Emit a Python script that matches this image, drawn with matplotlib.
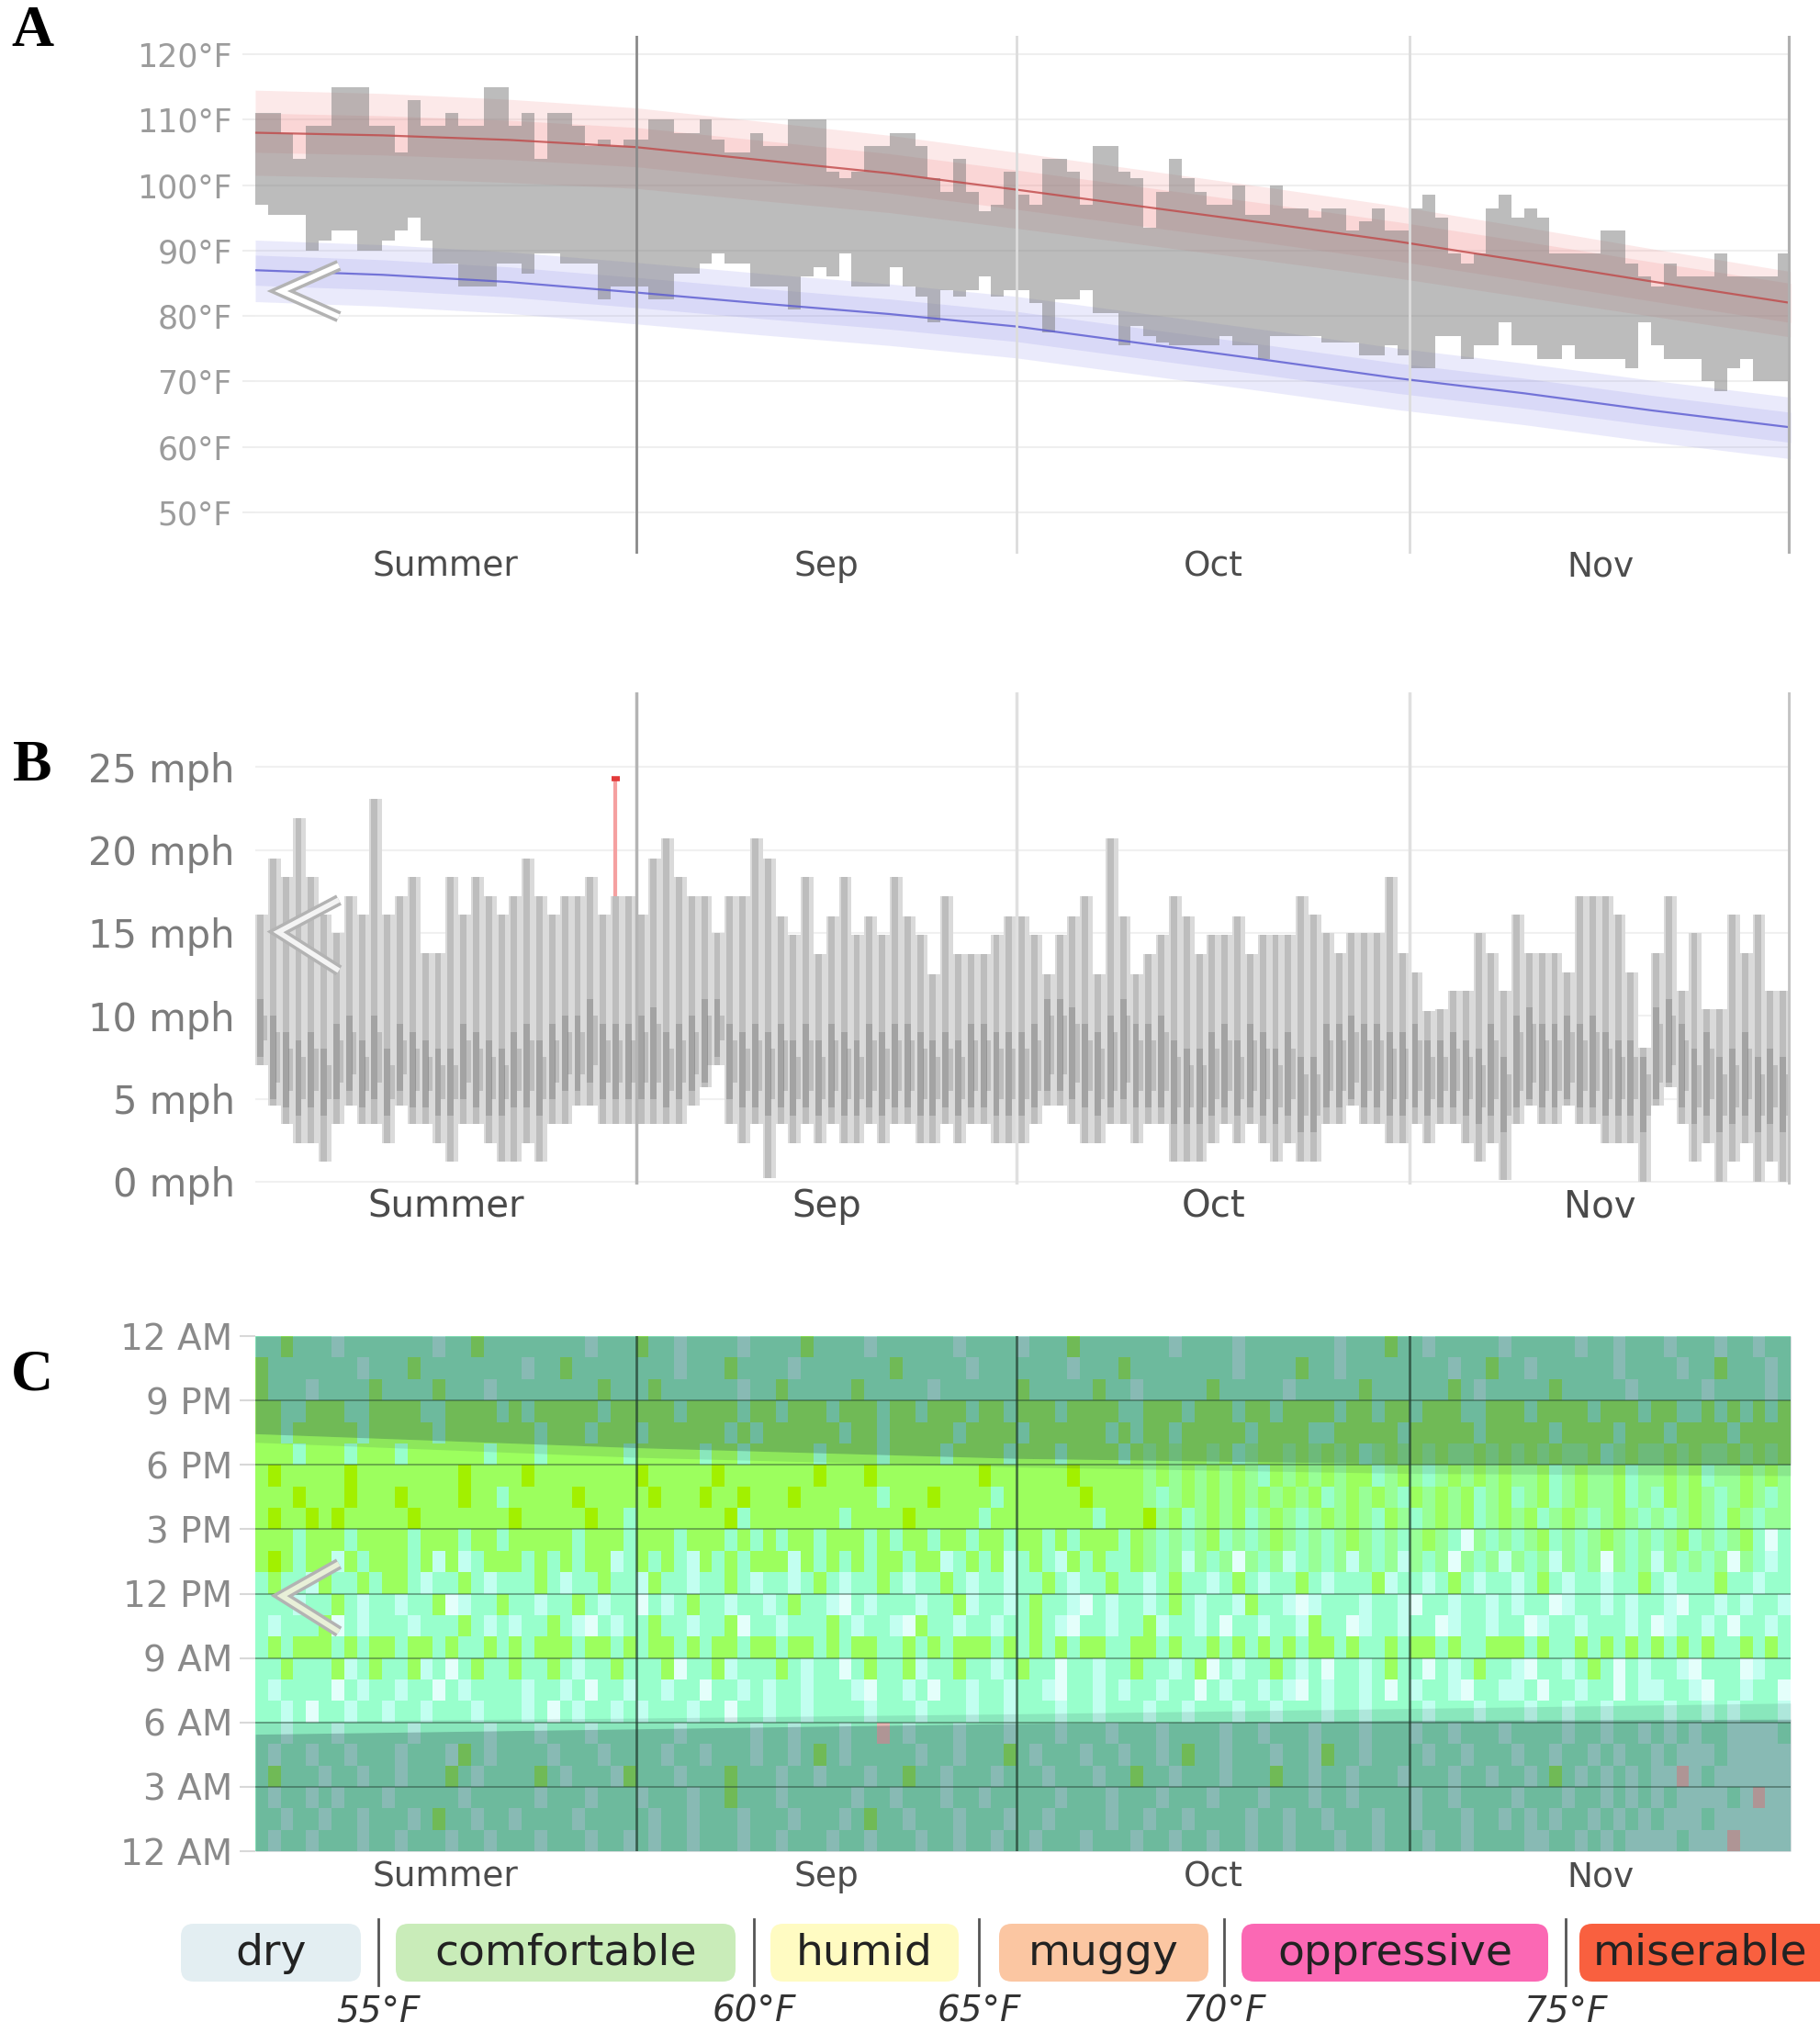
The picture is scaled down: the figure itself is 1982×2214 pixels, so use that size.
import matplotlib
matplotlib.use("Agg")
import matplotlib.pyplot as plt
import numpy as np
from matplotlib.colors import ListedColormap
from matplotlib.patches import FancyBboxPatch
from matplotlib.lines import Line2D

W, H = 1982, 2214

# ------------------------------------------------------------------ data
month_names = ["Summer", "Sep", "Oct", "Nov"]
month_edges = [0, 30, 60, 91, 121]

# panel A - daily high / low temperature (°F)
temp_ticks = [50, 60, 70, 80, 90, 100, 110, 120]
day_high = [111, 111, 108, 104, 109, 109, 115, 115, 115, 109,
            109, 105, 113, 109, 109, 111, 109, 109, 115, 115,
            109, 111, 104, 111, 111, 109, 106, 107, 106, 107,
            107, 110, 110, 108, 108, 110, 107, 105, 105, 108,
            106, 106, 110, 110, 110, 102, 101, 102, 106, 106,
            108, 108, 106, 101, 99, 104, 99, 96, 97, 102,
            98.5, 97, 104, 104, 102, 97, 106, 106, 102, 101,
            93.5, 99, 104, 101, 99, 97, 97, 100, 95.5, 95.5,
            100, 96.5, 96.5, 95, 96.5, 96.5, 93, 94.5, 96.5, 93,
            93, 96.5, 98.5, 95, 89.5, 88, 89.5, 96.5, 98.5, 95,
            96.5, 95, 89.5, 89.5, 89.5, 89.5, 93, 93, 88, 86,
            84.5, 88, 86, 86, 86, 89.5, 86, 86, 86, 86, 89.5]
day_low = [97, 95.5, 95.5, 95.5, 90, 91.5, 93, 93, 90, 90,
           91.5, 93, 95, 91.5, 88, 88, 84.5, 84.5, 84.5, 88,
           88, 86.5, 89.5, 89.5, 88, 88, 88, 82.5, 84.5, 84.5,
           84.5, 82.5, 82.5, 86.5, 86.5, 88, 89.5, 88, 88, 84.5,
           84.5, 84.5, 81, 86, 87.5, 86, 89.5, 84.5, 84.5, 84.5,
           87.5, 84.5, 83, 79, 84, 83, 84, 86, 83, 84,
           84, 82, 77.5, 82.5, 82.5, 84, 80.5, 80.5, 75.5, 78.5,
           77, 76, 75.5, 75.5, 75.5, 75.5, 77, 75.5, 75.5, 73.5,
           77, 77, 77, 77, 76, 76, 76, 74, 74, 75.5,
           74, 72, 72, 77, 77, 73.5, 75.5, 75.5, 79, 75.5,
           75.5, 73.5, 73.5, 75.5, 73.5, 73.5, 73.5, 73.5, 72, 79,
           75.5, 73.5, 73.5, 73.5, 70, 68.5, 72, 73.5, 70, 70, 70]

# climate normals at knot days
knot_days = [0, 10, 20, 30, 40, 50, 60, 70, 80, 90, 100, 110, 121]
avg_high = [108, 107.6, 106.9, 105.8, 103.8, 101.8, 99.3, 96.7, 94.1, 91.4, 88.4, 85.3, 82]
high_p90 = [114.5, 114, 113.1, 111.8, 109.7, 107.6, 105, 102.3, 99.6, 96.8, 93.6, 90.3, 86.8]
high_p75 = [111, 110.6, 109.9, 108.8, 106.8, 104.8, 102.3, 99.7, 97.1, 94.4, 91.4, 88.3, 85]
high_p25 = [105, 104.6, 103.9, 102.8, 100.8, 98.8, 96.3, 93.7, 91.1, 88.4, 85.4, 82.3, 79]
high_p10 = [101.5, 101.1, 100.4, 99.5, 97.6, 95.8, 93.4, 90.9, 88.4, 85.8, 82.9, 80, 76.8]
avg_low = [87, 86.3, 85.2, 83.6, 81.9, 80.3, 78.4, 75.8, 73.2, 70.5, 68.2, 65.6, 63]
low_p90 = [91.6, 90.9, 89.8, 88.2, 86.5, 84.9, 83, 80.4, 77.8, 75.1, 72.8, 70.2, 67.6]
low_p75 = [89.3, 88.6, 87.5, 85.9, 84.2, 82.6, 80.7, 78.1, 75.5, 72.8, 70.5, 67.9, 65.3]
low_p25 = [84.7, 84, 82.9, 81.3, 79.6, 78, 76.1, 73.5, 70.9, 68.2, 65.9, 63.3, 60.7]
low_p10 = [82.2, 81.5, 80.4, 78.8, 77.1, 75.5, 73.6, 71, 68.4, 65.7, 63.4, 60.8, 58.2]

# panel B - daily wind speed (mph)
wind_ticks = [0, 5, 10, 15, 20, 25]
wind_max = [16.1, 19.5, 18.4, 21.9, 18.4, 16.1, 15, 17.2, 16.1, 23.1,
            16.1, 17.2, 18.4, 13.8, 13.8, 18.4, 16.1, 18.4, 17.2, 16.1,
            17.2, 19.5, 17.2, 16.1, 17.2, 17.2, 18.4, 16.1, 17.2, 17.2,
            16.1, 19.5, 20.7, 18.4, 17.2, 17.2, 15, 17.2, 17.2, 20.7,
            19.5, 16, 14.9, 18.4, 13.7, 16, 18.4, 14.9, 16, 14.9,
            18.4, 16, 14.9, 12.5, 17.2, 13.7, 13.7, 13.7, 14.9, 16,
            16, 14.9, 12.5, 14.9, 16, 17.2, 12.5, 20.7, 16, 12.5,
            13.7, 14.9, 17.2, 16, 13.7, 14.9, 14.9, 16, 13.7, 14.9,
            14.9, 14.9, 17.2, 16.1, 15, 13.8, 15, 15, 15, 18.4,
            13.8, 12.6, 10.3, 10.4, 11.5, 11.5, 15, 13.8, 11.5, 16.1,
            13.8, 13.8, 13.8, 12.6, 17.2, 17.2, 17.2, 16.1, 12.6, 8.1,
            13.8, 17.2, 11.5, 15, 10.4, 10.4, 16.1, 13.8, 16.1, 11.5, 11.5]
wind_min = [7, 4.6, 3.5, 2.3, 2.3, 1.2, 3.5, 4.6, 3.5, 3.5,
            2.3, 4.6, 3.5, 3.5, 2.3, 1.2, 3.5, 3.5, 2.3, 1.2,
            1.2, 2.3, 1.2, 3.5, 3.5, 4.6, 4.6, 3.5, 3.5, 3.5,
            3.5, 3.5, 3.5, 3.5, 4.6, 5.7, 7, 3.5, 2.3, 3.5,
            0.2, 3.5, 2.3, 3.5, 2.3, 3.5, 2.3, 2.3, 3.5, 2.3,
            3.5, 3.5, 2.3, 2.3, 3.5, 2.3, 3.5, 3.5, 2.3, 2.3,
            2.3, 3.5, 4.6, 4.6, 3.5, 2.3, 2.3, 3.5, 3.5, 2.3,
            3.5, 3.5, 1.2, 1.2, 1.2, 2.3, 3.5, 2.3, 3.5, 2.3,
            1.2, 2.3, 1.2, 1.2, 3.5, 3.5, 4.6, 3.5, 3.5, 2.3,
            2.3, 3.5, 2.3, 3.5, 3.5, 2.3, 1.2, 2.3, 0.1, 3.5,
            4.6, 3.5, 3.5, 4.6, 3.5, 3.5, 2.3, 2.3, 2.3, 0,
            4.6, 5.7, 3.5, 1.2, 2.3, 0, 1.2, 2.3, 0, 1.2, 0]
wind_q1 = [7.5, 5, 4.5, 4, 4.5, 4, 5, 5.5, 4.5, 5,
           4, 5.5, 4.5, 4.5, 4, 4, 5, 4.5, 4, 4,
           4.5, 4.5, 4, 5, 5.5, 5.5, 6, 5, 5, 5,
           5, 5, 4.5, 5, 5.5, 6, 7.5, 5, 4.5, 4.5,
           4, 4.5, 4, 4.5, 4, 4.5, 4, 4, 4.5, 4,
           4.5, 4.5, 4, 4, 4.5, 4, 4.5, 4.5, 4, 4,
           4, 4.5, 5.5, 5.5, 5, 4.5, 4, 4.5, 5, 4.5,
           4.5, 4.5, 3.5, 3.5, 3.5, 4, 4.5, 4, 4.5, 4,
           3.5, 4, 3, 3, 4.5, 4.5, 5, 4.5, 4.5, 4,
           4, 4.5, 4, 4.5, 4.5, 4, 3.5, 4, 3, 4.5,
           5, 4.5, 4.5, 5, 4.5, 4.5, 4, 4, 4, 3,
           5, 6, 4.5, 3.5, 4, 3, 3.5, 4, 3, 3.5, 3]
wind_q3 = [11, 10, 9, 8.5, 9, 8, 9.5, 10, 8.5, 10,
           8, 9.5, 9, 8.5, 8, 8, 9.5, 9, 8.5, 8,
           9, 9.5, 8.5, 9.5, 10, 10, 11, 9.5, 9.5, 9.5,
           10, 10.5, 9, 9.5, 10, 11, 11, 9.5, 9, 9.5,
           9, 9.5, 8.5, 9.5, 8.5, 9.5, 9, 8.5, 9.5, 9,
           9.5, 9.5, 9, 8.5, 9, 8.5, 9.5, 9.5, 9, 9,
           9, 9.5, 11, 11, 10.5, 9.5, 9, 10, 11, 9.5,
           9.5, 10, 8.5, 8, 8, 9, 9.5, 8.5, 9.5, 9,
           8, 9, 7.5, 7.5, 9.5, 9.5, 10, 9.5, 9.5, 9,
           9, 9.5, 8.5, 8.5, 9, 8.5, 8, 9.5, 7.5, 10,
           10.5, 9.5, 9.5, 10, 9.5, 10, 9, 8.5, 8.5, 7.5,
           10.5, 11, 9.5, 8, 9, 7.5, 8, 9, 7.5, 8, 7.5]
gust_day = 28
gust_speed = 24.3

# panel C - hourly comfort category, one string per hour (11 PM row first)
hour_ticks = [0, 3, 6, 9, 12, 15, 18, 21, 24]
hour_labels = ["12 AM", "3 AM", "6 AM", "9 AM", "12 PM", "3 PM", "6 PM", "9 PM", "12 AM"]
comfort_rows = [
    "aagaaacaaa aaaacaagaa aaaaaacaaa gaacaaaaca aaagaaaaca aaaaacaaaa caaagaaaaa aacaaaacaa aaaaacaaag aacaaaaaca aaaacaacaa acaaacaaca a",
    "gaaaaaaaca aagaaaaaaa acaagaaaaa aaacaaagaa aacaaaaaaa gaaaaacaaa aaaacaaaga aaaaaaacaa aagaacaaaa aaaacaagaa caaaaaacaa aacaagaaac a",
    "gaaacaaaag aaaagaaaca aaaaaaagaa agaaaaaaca agaaaaagaa aaacaaaaaa gaaaaagaac aaaaagaaaa acaaaaagaa aaaagacaaa aagaaaaaca aaaacaaaac a",
    "ggaagggaag gggaagggga gagggggagg gggaggggag gagggaggga ggagggagga gggaggggaa gggagggagg aggggaggag gagggaaggg aggggaggga ggaagagaga g",
    "ggagggggag ggggaggggg ggagggaggg aggggggaga ggggggagga gggggagggg aggggggaga ggagggggag gggaaggggg agggggaggg ggaggggagg gaggggaggg g",
    "gggagggagg gaggggggag ggagggggga gggggaggag ggggagggga ggggagggga gggaggggag mgmggmgamg gmgmgmgamg mgmgmmgmgm gmgmmgamgm mgmgmmgmgm g",
    "gygggggygg ggggggyggg gygggggggg ygggggyggg ggggygggyg gggggggygg ggggyggggg mgmgmgmgma gmgmgmggam gmamgmgmgm mgamgmmgam mgmgammgmg m",
    "gggygggygg gyggggygga gggggygggg gygggyggyg ggygggggga gggyggggag gggggygggg mamgmgmgmg mgmgamgmgm agmgmgamga mgamgmmgam agmgmamgma m",
    "gyggygyggg ggyggggggg ygggggygga gggggggyag ggggggaggg gygggggagg ggggggaggg ymgamgmgam gmamgmgmag mamgmgamgm gamgmamgma mamgmagmam m",
    "gggagggagg ggagggagga gggggaggga gggagggaga gaggagggag aggaggagga ggagagggag mamamgamam gmamamgmam amgmawmama mgamamgmam amgamamgaw a",
    "gygaggcgag ggagcgcagg gagagaggca gagacgagag ggcgagagag gaggcagagc agacgagaag mamcmamwma mcamamcmam cmamwmamcm amcmamwmam cmamamwmac a",
    "agaacgaaga ggacaagaca aagacaagaa cgaacaagac aacagacaag acaagacaac aagacaagaa cagaacagac aagacaaagc aacagacaac agacaacaag acaaagaaca a",
    "aaacaagaca acaagwcaag aacaagacaa wacagaacaa cagaacwaca aacaagcaac agaacwacaa cagacaacga acwcaaacaa cwaacaacac aawcaacaca acwaacacaa c",
    "acaaagwaca aacaaagaca caagacwaca agaacaagwa acaaagacaa cwgaacaaca agacwaacaa gcaacawaac aacgaawcaa caawcaacaa wcaacaaaca wcaacawaac a",
    "agagggagag gaggagaaga gagggaggag aggagaggag gaggagagga agagagggag agagaggaag gagaagagag agaggagaag aggagaaggg agaagagaga gagagaagag a",
    "aagaaagcag aagcawagaa gaagacaaga aagwaagcaa agacaawaga agcaagaaca gaawaacaag aacagwacaa gacawaacag aawacagaac waacagawac aacwaaawca a",
    "acaaaawaca acaawacaaa acaacawaac aacaawaaca caacaaacwa acawaacaac aacwaacaca acaawacaac acwacaacaw acaacwaacc awaacaawac caacwaacaa w",
    "aacawaacaa caacaaacaa acawacaaca caaacaawaa caacaaaaca aacaaacaac aaacaacaaa caacaaacaa caaacaacaa aacaaacaaa caacaacaaa acaacacaaa c",
    "aacaaacaaa aacaaaaaca aacaaacaaa aaacaaaaac aacaaacaap acaaacaaac aaacaaacaa acaaaacaac aaacaaacaa acaacaaaca aaacaacaac acacaacccc a",
    "acaacaacaa acaaacgaca aaacaaacaa aacaacaaac aacagacaaa aacaacaaag acaaacaaca acagaacaaa caacgaacaa aacaacaaac aacaacacaa cacccacccc c",
    "agaaacaaca acaaagacaa aagacaaacg aaacaaagaa acaacaaaca agaacaaaca aacaaacaag aacaaacaaa gaacaacaaa caaacaacaa cagacacaca ccpcaccccc c",
    "acaacacaaa caaaaacaaa aacaaacaaa caaacaagaa acaaaaacaa caaacaacaa aaacaaacaa acaaacaaac aaacaacaaa acaacaaaac aaacaacaca caccccacpc c",
    "aacaacaaca aacagaacaa caaaacaaaa acaacaaaca aacaaacaga acaaacaaac aacaaaacaa caacaaaaca acaacaaaca acaaacaaca cacaacacac acccaccccc c",
    "acaacaaaca acaaacaaca aacaaacaac acaacaaaca acaaacaaca aacaacaaca acaaacaaac aacaacaaca acaaacaaca aacaacaaaa ccaacacacc ccacccpccc c",
]
comfort_codes = "wcamgyp"
comfort_colors = ["#e4fffb", "#c2fff0", "#98ffcc", "#98ff96", "#9cff5e", "#a2f000", "#ffc6c0"]

# daylight (hours) at knot days
sun_days = [0, 30, 60, 91, 121]
dusk_h = [19.45, 18.8, 18.3, 18.05, 18.0]
sunset_h = [19.05, 18.35, 17.9, 17.6, 17.5]
dawn_h = [5.45, 5.7, 5.95, 6.1, 6.15]
sunrise_h = [6.05, 6.2, 6.4, 6.65, 6.9]

# legend
legend_labels = ["dry", "comfortable", "humid", "muggy", "oppressive", "miserable"]
legend_colors = ["#e3eef2", "#c9ecb9", "#fffbc2", "#fbc6a2", "#fb68b4", "#f9603f"]
legend_temps = ["55°F", "60°F", "65°F", "70°F", "75°F"]

# ------------------------------------------------------------------ layout helpers
def box(left, top, right, bottom):
    return [left / W, 1 - bottom / H, (right - left) / W, (bottom - top) / H]

plt.rcParams['font.family'] = ['DejaVu Sans']

fig = plt.figure(figsize=(W / 100, H / 100), dpi=100)
fig.patch.set_facecolor("white")

n_days = len(day_high)
edges = np.arange(n_days + 1)
centers = np.arange(n_days) + 0.5


def month_axis(ax, ypos, size, color):
    ax.set_xlim(0, n_days)
    ax.set_xticks([])
    for s in ax.spines.values():
        s.set_visible(False)
    for i, name in enumerate(month_names):
        mid = (month_edges[i] + month_edges[i + 1]) / 2
        ax.text(mid, ypos, name, transform=ax.get_xaxis_transform(),
                ha="center", va="center", fontsize=size, color=color)


def chevron(tip, top_end, bot_end, inner):
    xs = np.array([top_end[0], tip[0], bot_end[0]]) / W
    ys = 1 - np.array([top_end[1], tip[1], bot_end[1]]) / H
    fig.add_artist(Line2D(xs, ys, transform=fig.transFigure, color="#b3b3b3",
                          lw=9, solid_joinstyle="miter", solid_capstyle="butt", zorder=20))
    fig.add_artist(Line2D(xs, ys, transform=fig.transFigure, color=inner,
                          lw=4, solid_joinstyle="miter", solid_capstyle="butt", zorder=21))


# ------------------------------------------------------------------ panel A
axA = fig.add_axes(box(278, 39, 1950, 603))
axA.set_ylim(43.7, 122.8)
month_axis(axA, -0.025, 27, "#4c4c4c")
axA.set_yticks(temp_ticks)
axA.set_yticklabels([f"{t}°F" for t in temp_ticks], fontsize=25, color="#9c9c9c")
axA.tick_params(axis="y", length=10, color="#eeeeee", width=1.5, pad=8)
for t in temp_ticks:
    axA.axhline(t, color="#efefef", lw=1.5, zorder=0)

axA.fill_between(knot_days, high_p10, high_p90, color="#f07878", alpha=0.16, lw=0, zorder=1)
axA.fill_between(knot_days, high_p25, high_p75, color="#f07878", alpha=0.16, lw=0, zorder=1)
axA.fill_between(knot_days, low_p10, low_p90, color="#7878e6", alpha=0.15, lw=0, zorder=1)
axA.fill_between(knot_days, low_p25, low_p75, color="#7878e6", alpha=0.15, lw=0, zorder=1)

hi_step = list(day_high) + [day_high[-1]]
lo_step = list(day_low) + [day_low[-1]]
axA.fill_between(edges, lo_step, hi_step, step="post", color="#7a7a7a",
                 alpha=0.5, lw=0, zorder=2)

axA.plot(knot_days, avg_high, color="#c04848", lw=1.6, alpha=0.8, zorder=3)
axA.plot(knot_days, avg_low, color="#5a5ad0", lw=1.6, alpha=0.8, zorder=3)

axA.axvline(month_edges[1], color="#8a8a8a", lw=2, zorder=4)
for m in month_edges[2:4]:
    axA.axvline(m, color="#dcdcdc", lw=2, zorder=4)
axA.axvline(month_edges[4] - 0.1, color="#b0b0b0", lw=3, zorder=4)

# ------------------------------------------------------------------ panel B
axB = fig.add_axes(box(278, 754, 1950, 1290))
axB.set_ylim(-0.17, 29.5)
month_axis(axB, -0.045, 29, "#4a4a4a")
axB.set_yticks(wind_ticks)
axB.set_yticklabels([f"{t} mph" for t in wind_ticks], fontsize=30, color="#7c7c7c")
axB.tick_params(axis="y", length=0, pad=16)
for t in wind_ticks:
    axB.axhline(t, color="#f0f0f0", lw=1.5, zorder=0)

wmax = np.array(wind_max)
wmin = np.array(wind_min)
q1 = np.array(wind_q1)
q3 = np.array(wind_q3)
axB.bar(centers, wmax - wmin, bottom=wmin, width=1.0, color="#dadada", lw=0, zorder=1)
axB.bar(centers - 0.1, wmax - wmin, bottom=wmin, width=0.5, color="#bdbdbd", lw=0, zorder=2)
axB.bar(centers - 0.1, q3 - q1, bottom=q1, width=0.5, color="#6a6a6a", alpha=0.3, lw=0, zorder=3)
axB.bar(centers + 0.3, q3 - q1 - 2, bottom=q1 + 1, width=0.35, color="#7a7a7a",
        alpha=0.3, lw=0, zorder=3)
axB.vlines(gust_day + 0.4, wind_max[gust_day], gust_speed, color="#f5a0a0", lw=3, zorder=4)
axB.hlines(gust_speed, gust_day + 0.1, gust_day + 0.7, color="#e23a3a", lw=4, zorder=5)

axB.axvline(month_edges[1], color="#b4b4b4", lw=2.5, zorder=4)
for m in month_edges[2:4]:
    axB.axvline(m, color="#e0e0e0", lw=2.5, zorder=4)
axB.axvline(month_edges[4] - 0.1, color="#c4c4c4", lw=3.5, zorder=4)

# ------------------------------------------------------------------ panel C
axC = fig.add_axes(box(278, 1455, 1950, 2016))
axC.set_ylim(0, 24)
month_axis(axC, -0.05, 27, "#4c4c4c")
axC.set_yticks(hour_ticks)
axC.set_yticklabels(hour_labels, fontsize=28, color="#8a8a8a")
axC.tick_params(axis="y", length=12, color="#d8d8d8", width=1.5, pad=6)

rows = [(r.replace(" ", "") + r[-1] * n_days)[:n_days] for r in comfort_rows[::-1]]
grid = np.array([[comfort_codes.index(ch) for ch in r] for r in rows])
axC.pcolormesh(edges, np.arange(25), grid, cmap=ListedColormap(comfort_colors),
               vmin=-0.5, vmax=len(comfort_colors) - 0.5, shading="flat", zorder=1)

night = "#23404a"
axC.fill_between(sun_days, dusk_h, 24, color=night, alpha=0.36, lw=0, zorder=2)
axC.fill_between(sun_days, sunset_h, dusk_h, color=night, alpha=0.12, lw=0, zorder=2)
axC.fill_between(sun_days, 0, dawn_h, color=night, alpha=0.36, lw=0, zorder=2)
axC.fill_between(sun_days, dawn_h, sunrise_h, color=night, alpha=0.12, lw=0, zorder=2)

for h in hour_ticks[1:-1]:
    axC.axhline(h, color="#203a2c", lw=1.3, alpha=0.45, zorder=3)
for m in month_edges[1:4]:
    axC.axvline(m, color="#203a2c", lw=2, alpha=0.7, zorder=3)

# ------------------------------------------------------------------ panel letters and chevrons
for letter, ypix in zip("ABC", [35, 835, 1499]):
    fig.text(35 / W, 1 - ypix / H, letter, ha="center", va="center",
             fontsize=46, fontweight="bold", family="Liberation Serif", color="black")

chevron((306, 317), (369, 289), (369, 345), "white")
chevron((303, 1015), (369, 980), (369, 1057), "#f4f4f4")
chevron((307, 1738), (369, 1703), (369, 1777), "#e8f0d8")

# ------------------------------------------------------------------ comfort legend
axL = fig.add_axes(box(0, 2070, W, H))
axL.set_xlim(0, W)
axL.set_ylim(H, 2070)
axL.axis("off")
box_x = [(197, 393), (431, 801), (839, 1044), (1088, 1316), (1352, 1686), (1720, 2060)]
sep_x = [412, 821, 1066, 1333, 1705]
for (x0, x1), label, col in zip(box_x, legend_labels, legend_colors):
    p = FancyBboxPatch((x0, 2095), x1 - x0, 63, boxstyle="round,pad=0,rounding_size=14",
                       fc=col, ec="none", clip_on=True)
    axL.add_patch(p)
    if label == "miserable":
        axL.text(1735, 2127, label, ha="left", va="center", fontsize=34,
                 color="#222222", clip_on=True)
    else:
        axL.text((x0 + x1) / 2, 2127, label, ha="center", va="center", fontsize=34,
                 color="#222222", clip_on=True)
for x, t in zip(sep_x, legend_temps):
    axL.plot([x, x], [2090, 2162], color="#555555", lw=2)
    axL.text(x, 2190, t, ha="center", va="center", fontsize=28, style="italic",
             color="#333333")

fig.savefig("out.png", dpi=100)
